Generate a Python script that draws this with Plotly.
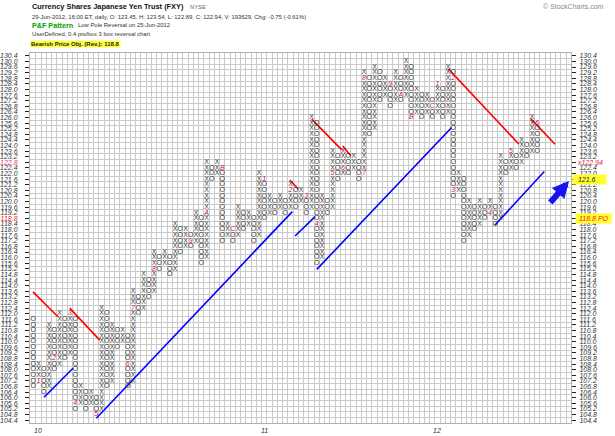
import plotly.graph_objects as go

BOX = 0.4
PRICE_MIN, PRICE_MAX = 104.4, 130.4

# ---- P&F columns (type, low box, high box) ----
col_type = list("OXOXOXOXOXOXOXOXOXOXOXOXOXOXOXOXOXOXOXOXOXOXOXOXOXOXOXOXOXOXOXOXOXOXOXOXOXOXOXOXOXOXOXOXOXOXOXOXO")
col_low = [106.8, 107.2, 106.4, 106.8, 108.0, 108.4, 108.8, 109.2, 105.2, 105.6,
           105.2, 105.6, 104.8, 105.2, 106.8, 107.2, 109.6, 110.0, 106.8, 107.2,
           112.0, 112.4, 113.2, 113.6, 115.2, 115.6, 114.8, 115.2, 116.4, 116.8,
           116.8, 117.2, 115.6, 116.0, 121.6, 122.0, 117.2, 117.6, 117.2, 117.6,
           118.0, 118.4, 117.2, 117.6, 118.8, 119.2, 119.2, 119.6, 119.2, 119.6,
           119.6, 120.0, 119.2, 119.6, 115.6, 116.0, 119.2, 119.6, 121.6, 122.0,
           122.0, 122.4, 121.6, 122.0, 124.8, 125.2, 127.2, 127.6, 126.8, 127.2,
           127.2, 127.6, 126.0, 126.4, 126.0, 126.4, 126.0, 126.4, 126.0, 126.4,
           120.4, 120.8, 117.2, 117.6, 118.0, 118.4, 118.8, 119.2, 118.4, 118.8,
           122.0, 122.4, 122.4, 122.8, 123.2, 123.6, 123.6, 124.0, 122.0]
col_high = [111.6, 108.4, 108.0, 111.2, 110.8, 112.0, 111.6, 112.0, 111.6, 106.8,
            106.4, 106.4, 106.0, 112.4, 112.0, 111.2, 110.8, 110.8, 110.4, 113.6,
            113.2, 114.8, 114.4, 116.4, 116.0, 116.4, 116.0, 118.4, 118.0, 118.0,
            117.6, 119.2, 118.8, 122.8, 122.4, 122.8, 122.4, 118.4, 118.0, 119.6,
            119.2, 119.2, 118.8, 122.0, 121.6, 120.4, 120.0, 120.4, 120.0, 121.2,
            120.8, 120.8, 120.4, 126.0, 125.6, 120.4, 120.0, 123.6, 123.2, 123.6,
            123.2, 123.2, 122.8, 129.2, 128.8, 129.6, 129.2, 128.8, 128.4, 129.2,
            128.8, 130.0, 129.6, 128.0, 127.6, 127.6, 127.2, 128.4, 128.0, 129.6,
            129.2, 122.0, 121.6, 120.0, 119.6, 120.0, 119.6, 120.0, 119.6, 123.2,
            122.8, 123.6, 123.2, 124.4, 124.0, 126.0, 125.6, 124.8, 124.4]

# month markers (label, column, price)
month_txt = ["1", "2", "3", "4", "5", "6", "7", "8", "9", "A", "B", "C",
             "1", "2", "3", "4", "5", "6", "7", "8", "9", "A", "B", "C",
             "1", "2", "3", "4", "5", "6"]
month_col = [1, 4, 7, 8, 12, 18, 19, 23, 30, 33, 36, 38,
             44, 49, 52, 54, 57, 59, 63, 63, 68, 70, 72, 76,
             77, 80, 80, 87, 91, 96]
month_val = [107.2, 108.8, 112.0, 105.6, 104.8, 108.4, 112.4, 115.2, 117.2, 119.2, 122.4, 118.0,
             121.6, 120.8, 120.4, 118.4, 122.0, 122.4, 122.0, 128.8, 128.4, 127.6, 126.0, 126.8,
             128.4, 128.8, 120.8, 119.2, 123.6, 125.6]

year_txt = ["10", "11", "12"]
year_col = [1, 44, 77]

# trend lines (column, price) pairs
red_lines = [((-0.04, 113.56), (4.7, 111.78)),
             ((6.95, 112.4), (12.67, 110.11)),
             ((48.9, 121.54), (50.5, 120.88)),
             ((53.05, 125.88), (58.76, 123.69)),
             ((58.95, 123.97), (60.48, 123.26)),
             ((79.07, 129.47), (92.53, 124.09)),
             ((94.8, 125.9), (99.4, 124.09))]
blue_lines = [((2.06, 106.04), (7.58, 108.11)),
              ((12.02, 104.54), (49.35, 119.28)),
              ((49.87, 117.54), (53.68, 118.92)),
              ((54.0, 115.16), (79.7, 125.28)),
              ((87.96, 118.33), (97.35, 122.14))]

# ---- geometry ----
W, H = 615, 436
ML, MR, MT, MB = 30, 44, 53, 13
PW, PH = W - ML - MR, H - MT - MB
COLW = 5.25
x0 = -0.5 - (30.6 - ML) / COLW
x_range = [x0, x0 + PW / COLW]
y_range = [PRICE_MIN - BOX / 2, PRICE_MAX + BOX / 2]

def px_x(px):
    return (px - ML) / PW

def px_y(py):
    return (H - MB - py) / PH

def col_px(c):
    return ML + (c - x_range[0]) * COLW

label_set = {(c, round(v, 1)) for c, v in zip(month_col, month_val)}

xs, ys, ts = [], [], []
for k, (t, lo, hi) in enumerate(zip(col_type, col_low, col_high)):
    n = int(round((hi - lo) / BOX))
    for i in range(n + 1):
        v = round(lo + i * BOX, 1)
        if (k, v) in label_set:
            continue
        xs.append(k)
        ys.append(v)
        ts.append(t)

fig = go.Figure()

for (a, b) in blue_lines:
    fig.add_trace(go.Scatter(x=[a[0], b[0]], y=[a[1], b[1]], mode="lines",
                             line=dict(color="#0000ff", width=1.6), hoverinfo="skip", showlegend=False))
for (a, b) in red_lines:
    fig.add_trace(go.Scatter(x=[a[0], b[0]], y=[a[1], b[1]], mode="lines",
                             line=dict(color="#ff0000", width=1.6), hoverinfo="skip", showlegend=False))

fig.add_trace(go.Scatter(x=xs, y=ys, mode="text", text=ts, textposition="middle center",
                         textfont=dict(family="Liberation Sans", size=7, color="#3a3a3a"),
                         hoverinfo="skip", showlegend=False))
fig.add_trace(go.Scatter(x=month_col, y=month_val, mode="text", text=month_txt,
                         textposition="middle center",
                         textfont=dict(family="Liberation Sans", size=7, color="#d0104c", style="italic"),
                         hoverinfo="skip", showlegend=False))

# dummy traces for label axes
fig.add_trace(go.Scatter(x=[0], y=[110], yaxis="y2", mode="markers", marker=dict(opacity=0),
                         hoverinfo="skip", showlegend=False))
fig.add_trace(go.Scatter(x=[0], y=[110], yaxis="y3", mode="markers", marker=dict(opacity=0),
                         hoverinfo="skip", showlegend=False))

nrows = int(round((PRICE_MAX - PRICE_MIN) / BOX))
centers = [round(PRICE_MIN + i * BOX, 1) for i in range(nrows + 1)]
bounds = [round(PRICE_MIN - BOX / 2 + i * BOX, 2) for i in range(nrows + 2)]
vbounds = [k + 0.5 for k in range(-1, 104)]

left_txt = []
for v in centers:
    s = f"{v:.1f}"
    if abs(v - 122.8) < 1e-6:
        s = f'<span style="color:#e0407a">{s}</span>'
    elif abs(v - 118.8) < 1e-6:
        s = f'<span style="color:#ff2020">{s}</span>'
    left_txt.append(s)
right_txt = []
for v in centers:
    if any(abs(v - s) < 1e-6 for s in (122.8, 121.6, 118.8)):
        right_txt.append("")
    else:
        right_txt.append(f"{v:.1f}")

tickfont = dict(family="Liberation Sans", size=7, color="#333333", style="italic")

fig.update_layout(
    width=W, height=H, margin=dict(l=ML, r=MR, t=MT, b=MB, autoexpand=False),
    paper_bgcolor="white", plot_bgcolor="white",
    xaxis=dict(range=x_range, tickmode="array", tickvals=vbounds, showticklabels=False,
               showgrid=True, gridcolor="#cacaca", gridwidth=1, zeroline=False, ticks="",
               showline=True, linecolor="#b0b0b0", mirror=True, automargin=False, fixedrange=True),
    yaxis=dict(range=y_range, tickmode="array", tickvals=bounds, showticklabels=False,
               showgrid=True, gridcolor="#cacaca", gridwidth=1, zeroline=False, ticks="",
               showline=True, linecolor="#b0b0b0", mirror=True, automargin=False, fixedrange=True),
    yaxis2=dict(range=y_range, overlaying="y", side="left", tickmode="array",
                tickvals=centers, ticktext=left_txt, showgrid=False, zeroline=False,
                ticks="outside", ticklen=4, tickcolor="#222", tickfont=tickfont,
                ticklabelstandoff=6, showline=False, automargin=False, fixedrange=True),
    yaxis3=dict(range=y_range, overlaying="y", side="right", tickmode="array",
                tickvals=centers, ticktext=right_txt, showgrid=False, zeroline=False,
                ticks="outside", ticklen=4, tickcolor="#222", tickfont=tickfont,
                ticklabelstandoff=2, showline=False, automargin=False, fixedrange=True),
)

ann = []
def T(px, py, text, size, color="#222", bold=False, bg=None, family="Liberation Sans", italic=False):
    ann.append(dict(xref="paper", yref="paper", x=px_x(px), y=px_y(py), text=(f"<b>{text}</b>" if bold else text),
                    showarrow=False, xanchor="left", yanchor="middle",
                    font=dict(family=family, size=size, color=color, style=("italic" if italic else "normal")),
                    bgcolor=bg, borderpad=0))

T(31, 6.5, "Currency Shares Japanese Yen Trust (FXY)", 7.4, "#111", bold=True)
T(189, 7, "NYSE", 5.8, "#666")
T(31, 16.5, "29-Jun-2012, 16:00 ET, daily, O: 123.45, H: 123.54, L: 122.89, C: 122.94, V: 193629, Chg: -0.75 (-0.61%)", 5.9, "#333")
T(31, 25.5, "P&F Pattern", 7.2, "#00a000", bold=True)
T(77, 25.5, "Low Pole Reversal on 25-Jun-2012", 5.9, "#333")
T(31, 34.5, "UserDefined, 0.4 pts/box 3 box reversal chart", 5.9, "#333")
T(30, 44, "Bearish Price Obj. (Rev.): 118.8", 6.0, "#222", bold=True, bg="#ffff40")
T(542, 7, "© StockCharts.com", 7, "#8a8a8a")

# right axis special labels
ann.append(dict(xref="paper", yref="y", x=px_x(575), y=122.8, text="x122.94", showarrow=False,
                xanchor="left", yanchor="middle",
                font=dict(family="Liberation Sans", size=7, color="#e0204a", style="italic")))
ann.append(dict(xref="paper", yref="y", x=px_x(572), y=121.6, text="  121.6     ", showarrow=False,
                xanchor="left", yanchor="middle", bgcolor="#ffff30",
                font=dict(family="Liberation Sans", size=7, color="#222", style="italic")))
ann.append(dict(xref="paper", yref="y", x=px_x(575), y=118.8, text=" 118.8 PO ", showarrow=False,
                xanchor="left", yanchor="middle", bgcolor="#ffff30",
                font=dict(family="Liberation Sans", size=7, color="#ff2020", style="italic")))

# year labels at bottom
for t, c in zip(year_txt, year_col):
    ann.append(dict(xref="paper", yref="paper", x=px_x(col_px(c)), y=px_y(430), text=t, showarrow=False,
                    xanchor="center", yanchor="middle",
                    font=dict(family="Liberation Sans", size=7, color="#333", style="italic")))

# blue arrow
ann.append(dict(xref="paper", yref="paper", x=px_x(569), y=px_y(181), ax=-20, ay=23,
                axref="pixel", ayref="pixel", text="", showarrow=True, arrowhead=2,
                arrowsize=0.55, arrowwidth=6, arrowcolor="#1414ee", standoff=0))

fig.update_layout(annotations=ann)
fig.write_html("out.html", config={"displayModeBar": False, "staticPlot": True},
               post_script="document.body.style.margin='0';document.body.style.padding='0';")
